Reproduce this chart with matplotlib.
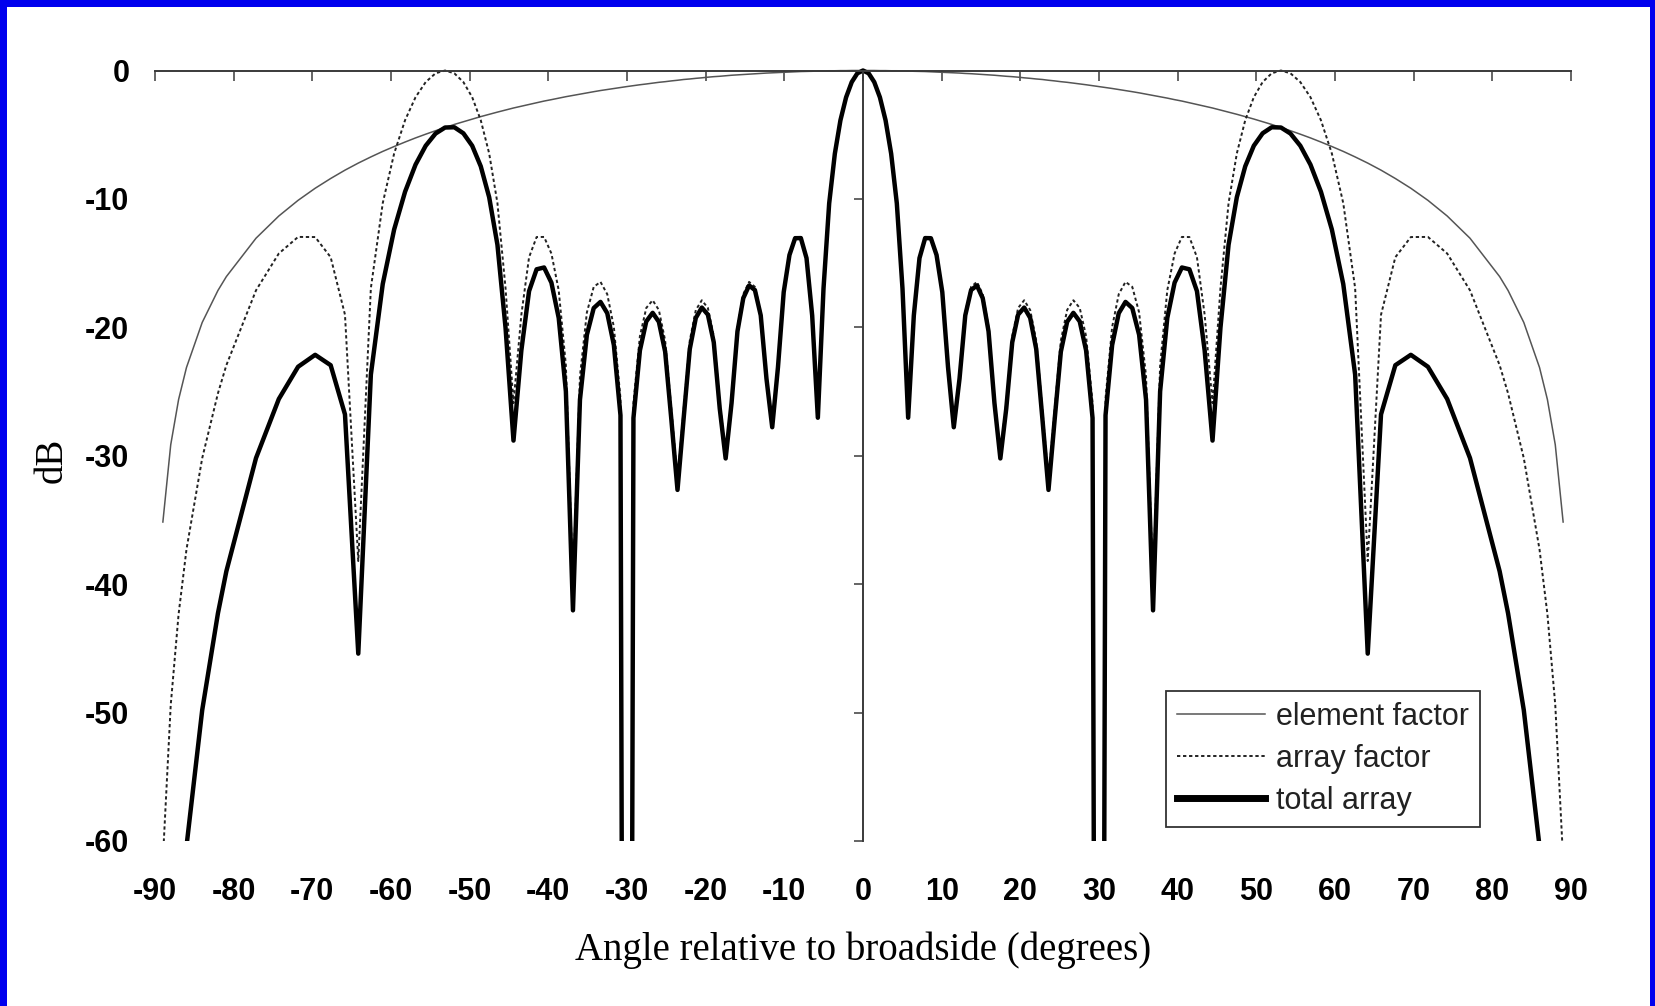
import matplotlib.pyplot as plt
from matplotlib.patches import Rectangle

# Data (dB vs angle)
angle = [
    -89, -88, -87, -86, -84, -82, -80.93, -77.16, -74.26, -71.81,
    -69.64, -67.67, -65.85, -64.16, -62.56, -61.05, -59.60, -58.21, -56.88, -55.59,
    -54.34, -53.13, -51.95, -50.80, -49.68, -48.59, -47.52, -46.47, -45.44, -44.43,
    -43.43, -42.45, -41.49, -40.54, -39.61, -38.68, -37.77, -36.87, -35.98, -35.10,
    -34.23, -33.37, -32.51, -31.67, -30.83, -30.00, -29.18, -28.36, -27.55, -26.74,
    -25.95, -25.15, -24.36, -23.58, -22.80, -22.02, -21.25, -20.49, -19.72, -18.97,
    -18.21, -17.46, -16.71, -15.96, -15.22, -14.48, -13.74, -13.00, -12.27, -11.54,
    -10.81, -10.08, -9.35, -8.63, -7.90, -7.18, -6.46, -5.74, -5.02, -4.30,
    -3.58, -2.87, -2.15, -1.43, -0.72,
    0.00, 0.72, 1.43, 2.15, 2.87, 3.58, 4.30, 5.02, 5.74, 6.46,
    7.18, 7.90, 8.63, 9.35, 10.08, 10.81, 11.54, 12.27, 13.00, 13.74,
    14.48, 15.22, 15.96, 16.71, 17.46, 18.21, 18.97, 19.72, 20.49, 21.25,
    22.02, 22.80, 23.58, 24.36, 25.15, 25.95, 26.74, 27.55, 28.36, 29.18,
    30.00, 30.83, 31.67, 32.51, 33.37, 34.23, 35.10, 35.98, 36.87, 37.77,
    38.68, 39.61, 40.54, 41.49, 42.45, 43.43, 44.43, 45.44, 46.47, 47.52,
    48.59, 49.68, 50.80, 51.95, 53.13, 54.34, 55.59, 56.88, 58.21, 59.60,
    61.05, 62.56, 64.16, 65.85, 67.67, 69.64, 71.81, 74.26, 77.16, 80.93,
    82, 84, 86, 87, 88, 89,
]

element_factor = [
    -35.16, -29.14, -25.62, -23.13, -19.62, -17.13, -16.05, -13.06, -11.33, -10.11,
    -9.17, -8.41, -7.76, -7.21, -6.73, -6.30, -5.92, -5.57, -5.25, -4.96,
    -4.69, -4.44, -4.20, -3.99, -3.78, -3.59, -3.41, -3.24, -3.08, -2.92,
    -2.78, -2.64, -2.51, -2.38, -2.27, -2.15, -2.04, -1.94, -1.84, -1.74,
    -1.65, -1.56, -1.48, -1.40, -1.32, -1.25, -1.18, -1.11, -1.05, -0.98,
    -0.92, -0.87, -0.81, -0.76, -0.70, -0.66, -0.61, -0.57, -0.52, -0.48,
    -0.45, -0.41, -0.37, -0.34, -0.31, -0.28, -0.25, -0.23, -0.20, -0.18,
    -0.16, -0.14, -0.12, -0.10, -0.08, -0.07, -0.06, -0.04, -0.03, -0.02,
    -0.02, -0.01, -0.01, 0.00, 0.00,
    0.00, 0.00, 0.00, -0.01, -0.01, -0.02, -0.02, -0.03, -0.04, -0.06,
    -0.07, -0.08, -0.10, -0.12, -0.14, -0.16, -0.18, -0.20, -0.23, -0.25,
    -0.28, -0.31, -0.34, -0.37, -0.41, -0.45, -0.48, -0.52, -0.57, -0.61,
    -0.66, -0.70, -0.76, -0.81, -0.87, -0.92, -0.98, -1.05, -1.11, -1.18,
    -1.25, -1.32, -1.40, -1.48, -1.56, -1.65, -1.74, -1.84, -1.94, -2.04,
    -2.15, -2.27, -2.38, -2.51, -2.64, -2.78, -2.92, -3.08, -3.24, -3.41,
    -3.59, -3.78, -3.99, -4.20, -4.44, -4.69, -4.96, -5.25, -5.57, -5.92,
    -6.30, -6.73, -7.21, -7.76, -8.41, -9.17, -10.11, -11.33, -13.06, -16.05,
    -17.13, -19.62, -23.13, -25.62, -29.14, -35.16,
]

array_factor = [
    -61.46, -49.40, -42.33, -37.30, -30.19, -25.14, -22.95, -17.12, -14.25, -12.96,
    -12.97, -14.54, -19.02, -38.20, -16.95, -10.33, -6.46, -3.87, -2.08, -0.90,
    -0.22, 0.00, -0.22, -0.90, -2.08, -3.87, -6.46, -10.33, -16.95, -25.90,
    -19.02, -14.54, -12.97, -12.96, -14.25, -17.12, -22.95, -40.10, -23.80, -18.84,
    -16.85, -16.46, -17.42, -19.98, -25.53, -200.00, -25.88, -20.69, -18.49, -17.89,
    -18.65, -21.03, -26.39, -31.90, -26.39, -21.03, -18.65, -17.89, -18.49, -20.69,
    -25.88, -29.80, -25.53, -19.98, -17.42, -16.46, -16.85, -18.84, -23.80, -27.60,
    -22.95, -17.12, -14.25, -12.96, -12.97, -14.54, -19.02, -27.00, -16.95, -10.33,
    -6.46, -3.87, -2.08, -0.90, -0.22,
    0.00, -0.22, -0.90, -2.08, -3.87, -6.46, -10.33, -16.95, -27.00, -19.02,
    -14.54, -12.97, -12.96, -14.25, -17.12, -22.95, -27.60, -23.80, -18.84, -16.85,
    -16.46, -17.42, -19.98, -25.53, -29.80, -25.88, -20.69, -18.49, -17.89, -18.65,
    -21.03, -26.39, -31.90, -26.39, -21.03, -18.65, -17.89, -18.49, -20.69, -25.88,
    -200.00, -25.53, -19.98, -17.42, -16.46, -16.85, -18.84, -23.80, -40.10, -22.95,
    -17.12, -14.25, -12.96, -12.97, -14.54, -19.02, -25.90, -16.95, -10.33, -6.46,
    -3.87, -2.08, -0.90, -0.22, 0.00, -0.22, -0.90, -2.08, -3.87, -6.46,
    -10.33, -16.95, -38.20, -19.02, -14.54, -12.97, -12.96, -14.25, -17.12, -22.95,
    -25.14, -30.19, -37.30, -42.33, -49.40, -61.46,
]

total_array = [
    -96.62, -78.54, -67.95, -60.43, -49.81, -42.27, -39.00, -30.18, -25.58, -23.07,
    -22.14, -22.95, -26.78, -45.41, -23.68, -16.63, -12.38, -9.44, -7.33, -5.86,
    -4.91, -4.44, -4.42, -4.89, -5.86, -7.46, -9.87, -13.57, -20.03, -28.82,
    -21.80, -17.18, -15.48, -15.34, -16.52, -19.27, -24.99, -42.04, -25.64, -20.58,
    -18.50, -18.02, -18.90, -21.38, -26.85, -201.25, -27.06, -21.80, -19.54, -18.87,
    -19.57, -21.90, -27.20, -32.66, -27.09, -21.69, -19.26, -18.46, -19.01, -21.17,
    -26.33, -30.21, -25.90, -20.32, -17.73, -16.74, -17.10, -19.07, -24.00, -27.78,
    -23.11, -17.26, -14.37, -13.06, -13.05, -14.61, -19.08, -27.04, -16.98, -10.35,
    -6.48, -3.88, -2.09, -0.90, -0.22,
    0.00, -0.22, -0.90, -2.09, -3.88, -6.48, -10.35, -16.98, -27.04, -19.08,
    -14.61, -13.05, -13.06, -14.37, -17.26, -23.11, -27.78, -24.00, -19.07, -17.10,
    -16.74, -17.73, -20.32, -25.90, -30.21, -26.33, -21.17, -19.01, -18.46, -19.26,
    -21.69, -27.09, -32.66, -27.20, -21.90, -19.57, -18.87, -19.54, -21.80, -27.06,
    -201.25, -26.85, -21.38, -18.90, -18.02, -18.50, -20.58, -25.64, -42.04, -24.99,
    -19.27, -16.52, -15.34, -15.48, -17.18, -21.80, -28.82, -20.03, -13.57, -9.87,
    -7.46, -5.86, -4.89, -4.42, -4.44, -4.91, -5.86, -7.33, -9.44, -12.38,
    -16.63, -23.68, -45.41, -26.78, -22.95, -22.14, -23.07, -25.58, -30.18, -39.00,
    -42.27, -49.81, -60.43, -67.95, -78.54, -96.62,
]

x_ticks = list(range(-90, 91, 10))
y_ticks = list(range(-60, 1, 10))

plt.rcParams['font.family'] = 'Liberation Sans'
axis_color = '#3a3a3a'

fig = plt.figure(figsize=(16.55, 10.06), dpi=100)
ax = fig.add_axes([155 / 1655, 165 / 1006, 1416 / 1655, 770.5 / 1006])

ax.plot(angle, element_factor, color='#555555', lw=1.1, label='element factor')
ax.plot(angle, array_factor, color='#222222', lw=1.4, linestyle=(0, (1.7, 1.4)),
        label='array factor')
ax.plot(angle, total_array, color='black', lw=3.2, label='total array')

ax.set_xlim(-90, 90)
ax.set_ylim(-60, 0)

# clip at the -60 floor but let lines touch the 0 dB axis fully
clip = Rectangle((-92, -60), 184, 62, transform=ax.transData)
for ln in ax.get_lines():
    ln.set_clip_path(clip)

# axes: horizontal axis at 0 dB (top), vertical axis at 0 degrees
ax.spines['right'].set_visible(False)
ax.spines['bottom'].set_visible(False)
ax.spines['left'].set_position(('data', 0))
for s in ['left', 'top']:
    ax.spines[s].set_color(axis_color)
    ax.spines[s].set_linewidth(1.4)

ax.set_xticks(x_ticks, labels=[str(t) for t in x_ticks], fontweight='bold', fontsize=22)
ax.tick_params(axis='x', top=True, bottom=False, labeltop=False, labelbottom=True,
               direction='in', length=7, width=1.1, color=axis_color, pad=26)

ax.set_yticks(y_ticks)
ax.tick_params(axis='y', left=True, right=False, labelleft=False, direction='out',
               length=6.5, width=1.1, color=axis_color)

sec = ax.secondary_yaxis('left')
sec.spines['left'].set_visible(False)
sec.set_yticks(y_ticks, labels=[str(t) for t in y_ticks], fontweight='bold', fontsize=22)
sec.tick_params(length=0, pad=18.5)

ax.set_xlabel('Angle relative to broadside (degrees)', fontfamily='Liberation Serif',
              fontsize=28, verticalalignment='center')
ax.xaxis.set_label_coords(0.5, -0.1415)
ax.set_ylabel('dB', fontfamily='Liberation Serif', fontsize=28,
              verticalalignment='center', horizontalalignment='center')
ax.yaxis.set_label_coords(-0.0727, 0.4945)

leg = ax.legend(loc='upper left', bbox_to_anchor=(1166 / 1655, 1 - 691 / 1006),
                bbox_transform=fig.transFigure, prop={'family': 'Liberation Sans', 'size': 22},
                frameon=True, fancybox=False, edgecolor='#333333', framealpha=1,
                borderpad=0.35, handlelength=2.9, handletextpad=0.35, labelspacing=0.4,
                borderaxespad=0)
leg.get_frame().set_linewidth(1.3)
leg.get_lines()[2].set_linewidth(5)
for t in leg.get_texts():
    t.set_color('#222222')

# blue slide border
blue = '#0000EE'
fig.add_artist(Rectangle((0, 0), 7 / 1655, 1, transform=fig.transFigure, color=blue, lw=0))
fig.add_artist(Rectangle((0, 1 - 7 / 1006), 1, 7 / 1006, transform=fig.transFigure, color=blue, lw=0))
fig.add_artist(Rectangle((1 - 5 / 1655, 0), 5 / 1655, 1, transform=fig.transFigure, color=blue, lw=0))

fig.savefig('out.png', dpi=100)
